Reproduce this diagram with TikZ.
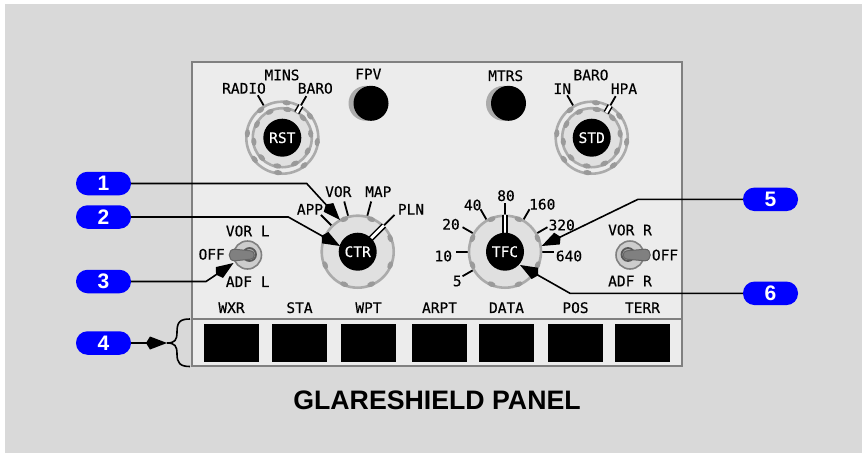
\documentclass[tikz,border=0pt]{standalone}
\usepackage{fontspec}
\setmainfont{Liberation Sans}
\newfontfamily\pmono[FakeBold=0.35]{DejaVu Sans Mono}
\usetikzlibrary{arrows.meta,calc}
\definecolor{bgg}{HTML}{D9D9D9}
\definecolor{pang}{HTML}{ECECEC}
\definecolor{edg}{HTML}{808080}
\definecolor{rimg}{HTML}{ABABAB}
\definecolor{bumpg}{HTML}{9A9A9A}
\definecolor{faceg}{HTML}{E0E0E0}
\tikzset{
  lbl/.style={inner sep=0pt,font=\pmono\fontsize{14.5}{15}\selectfont,text=black},
  knobcap/.style={circle,fill=black,text=white,inner sep=0pt,minimum size=38pt,font=\pmono\fontsize{14.5}{15}\selectfont},
  pill/.style={rounded corners=11.5pt,fill=blue,text=white,minimum width=55pt,minimum height=23.5pt,inner sep=0pt,font=\bfseries\fontsize{21}{22}\selectfont},
  tick/.style={line width=1.8pt,draw=black},
  dbl/.style={line width=1.5pt,draw=black,double=white,double distance=2.8pt},
  leader/.style={line width=1.6pt,draw=black,-{Kite[length=21pt,width=13pt,inset=4pt]}},
  bump/.style={fill=bumpg,draw=none},
  blackbox/.style={fill=black,minimum width=55pt,minimum height=38pt,inner sep=0pt},
}
% count-1, start (visual degrees), step, radius
\newcommand{\bumps}[4]{\foreach \a in {0,...,#1}{%
  \pgfmathsetmacro{\v}{#2+\a*#3}%
  \fill[bump,shift={(-\v:#4-0.8)},rotate=\v] (0,0) ellipse[x radius=2.6pt,y radius=4.2pt];}}
\newcommand{\ringknob}[4]{%
  \begin{scope}[shift={(#2,#3)}]
    \draw[rimg,line width=2.6pt,fill=pang] (0,0) circle[radius=36pt];
    \bumps{7}{-7}{45}{36}
    \draw[rimg,line width=2.6pt,fill=faceg] (0,0) circle[radius=29.5pt];
    \bumps{9}{8}{36}{29.5}
  \end{scope}
  \node[knobcap] (#1) at (#2,#3) {#4};
}
% name, cx, cy, xscale sign, tip reach
\newcommand{\toggle}[5]{%
  \node[circle,draw=edg,fill=faceg!80!gray,line width=1.6pt,minimum size=28pt,inner sep=0pt] (#1) at (#2,#3) {};
  \begin{scope}[shift={(#2,#3)},xscale=#4]
    \draw[fill=rimg,draw=black!65,line width=1.8pt] (2,-0.5) circle[radius=6.5pt];
    \draw[fill=edg,draw=black!60,line width=1pt]
      (3,-4.2) -- (-#5+5,-5.8) .. controls (-#5-2,-5.8) and (-#5-2,5.8) .. (-#5+5,5.8)
      -- (3,4.2) .. controls (8,4.2) and (8,-4.2) .. (3,-4.2) -- cycle;
  \end{scope}
}
\begin{document}
\begin{tikzpicture}[x=1pt,y=-1pt]
\useasboundingbox (0,0) rectangle (866,453);
\fill[white] (0,0) rectangle (866,453);
\fill[bgg] (5,4) rectangle (862,453);
% panel
\draw[edg,line width=2pt,fill=pang] (192,62) rectangle (682,366);
\draw[edg,line width=2pt] (192,319) -- (682,319);
% black lamps
\foreach \n/\x/\t in {a/231.5/WXR,b/299.5/STA,c/368.5/WPT,d/439.5/ARPT,e/506.5/DATA,f/575.5/POS,g/642.5/TERR}{
  \node[blackbox] (lamp\n) at (\x,342.8) {};
  \node[lbl] (lab\n) at (\x,307.7) {\t};
}
% ticks and knobs: RST
\begin{scope}[shift={(282.3,137.7)}]
  \draw[tick] (-120:36) -- (-120:49);
  \draw[tick] (-60:36) -- (-60:48);
\end{scope}
\ringknob{rst}{282.3}{137.7}{RST}
\begin{scope}[shift={(282.3,137.7)}]
  \draw[dbl] (-60:29) -- (-60:37);
\end{scope}
% STD
\begin{scope}[shift={(591.7,137.7)}]
  \draw[tick] (-120:36) -- (-120:49);
  \draw[tick] (-60:36) -- (-60:48);
\end{scope}
\ringknob{std}{591.7}{137.7}{STD}
\begin{scope}[shift={(591.7,137.7)}]
  \draw[dbl] (-60:29) -- (-60:37);
\end{scope}
% FPV, MTRS
\fill[rimg] (366,103.3) circle[radius=17.5pt];
\node[circle,fill=black,minimum size=35pt,inner sep=0pt] (fpv) at (371,103.3) {};
\fill[rimg] (503.5,103.3) circle[radius=17.5pt];
\node[circle,fill=black,minimum size=35pt,inner sep=0pt] (mtrs) at (508.5,103.3) {};
% CTR
\begin{scope}[shift={(357.7,251.7)}]
  \foreach \a in {135,105,75,45}{\draw[tick] (-\a:36) -- (-\a:52);}
  \draw[rimg,line width=2.6pt,fill=faceg] (0,0) circle[radius=36pt];
  \bumps{7}{22.5}{45}{36}
  \draw[dbl] (-45:18) -- (-45:37);
\end{scope}
\node[knobcap] (ctr) at (357.7,251.7) {CTR};
% TFC
\begin{scope}[shift={(505,251.7)}]
  \foreach \a in {210,180,150,120,90,60,30,0}{\draw[tick] (-\a:36) -- (-\a:49);}
  \draw[rimg,line width=2.6pt,fill=faceg] (0,0) circle[radius=36pt];
  \bumps{7}{22.5}{45}{36}
  \draw[dbl] (-90:18) -- (-90:37);
\end{scope}
\node[knobcap] (tfc) at (505,251.7) {TFC};
% toggles
\toggle{tl}{247.5}{255}{1}{18}
\toggle{tr}{630}{255}{-1}{20}
% labels
\foreach \n/\x/\y/\t in {
  l1/282/75/MINS,l2/244/88.3/RADIO,l3/315.3/88.3/BARO,l4/368.3/74/FPV,
  l5/505.7/75.7/MTRS,l6/591/75/BARO,l7/562.3/88.7/IN,l8/624/88.7/HPA,
  l9/310/209.3/APP,l10/338.3/191.7/VOR,l11/378.3/191.7/MAP,l12/411/209.3/PLN,
  l13/457.3/281/5,l14/443.3/256/10,l15/451/224.3/20,l16/472.7/205/40,l17/506/195.7/80,
  l18/542.3/204.3/160,l19/561.7/225/320,l20/569/256/640,
  l21/630/230/VOR R,l22/630/281/ADF R,l23/665/255/OFF,
  l24/247.7/231/VOR L,l25/247.7/281.7/ADF L,l26/211.7/254.3/OFF}{
  \node[lbl] (\n) at (\x,\y) {\t};
}
% title
\node[inner sep=0pt,font=\bfseries\fontsize{26.7}{28}\selectfont] (title) at (437,400) {GLARESHIELD PANEL};
% pills
\node[pill] (p1) at (103.5,183.5) {1};
\node[pill] (p2) at (103.5,217) {2};
\node[pill] (p3) at (103.5,281.5) {3};
\node[pill] (p4) at (103.5,343) {4};
\node[pill] (p5) at (770.5,199.3) {5};
\node[pill] (p6) at (770.5,293.3) {6};
% leaders
\coordinate (c1) at (306.7,183.5); \coordinate (t1) at (340,220);
\coordinate (c2) at (288.3,217);   \coordinate (t2) at (340,246);
\coordinate (c3) at (206,281.5);   \coordinate (t3) at (233.5,263);
\coordinate (c5) at (638,199.3);   \coordinate (t5) at (541.7,246);
\coordinate (c6) at (570,293.3);   \coordinate (t6) at (520,265);
\coordinate (t4) at (167,343);
\draw[leader] (p1.east) -- (c1) -- (t1);
\draw[leader] (p2.east) -- (c2) -- (t2);
\draw[leader] (p3.east) -- (c3) -- (t3);
\draw[leader] (p5.west) -- (c5) -- (t5);
\draw[leader] (p6.west) -- (c6) -- (t6);
\draw[leader] (p4.east) -- (t4);
% brace
\coordinate (bt) at (190,319); \coordinate (bb) at (190,366.5);
\draw[line width=1.6pt] (bt) .. controls (180,319) and (177,322) .. (177,332)
  .. controls (177,340) and (175,343) .. (t4)
  .. controls (175,343) and (177,346) .. (177,354)
  .. controls (177,363) and (180,366.5) .. (bb);
\end{tikzpicture}
\end{document}
